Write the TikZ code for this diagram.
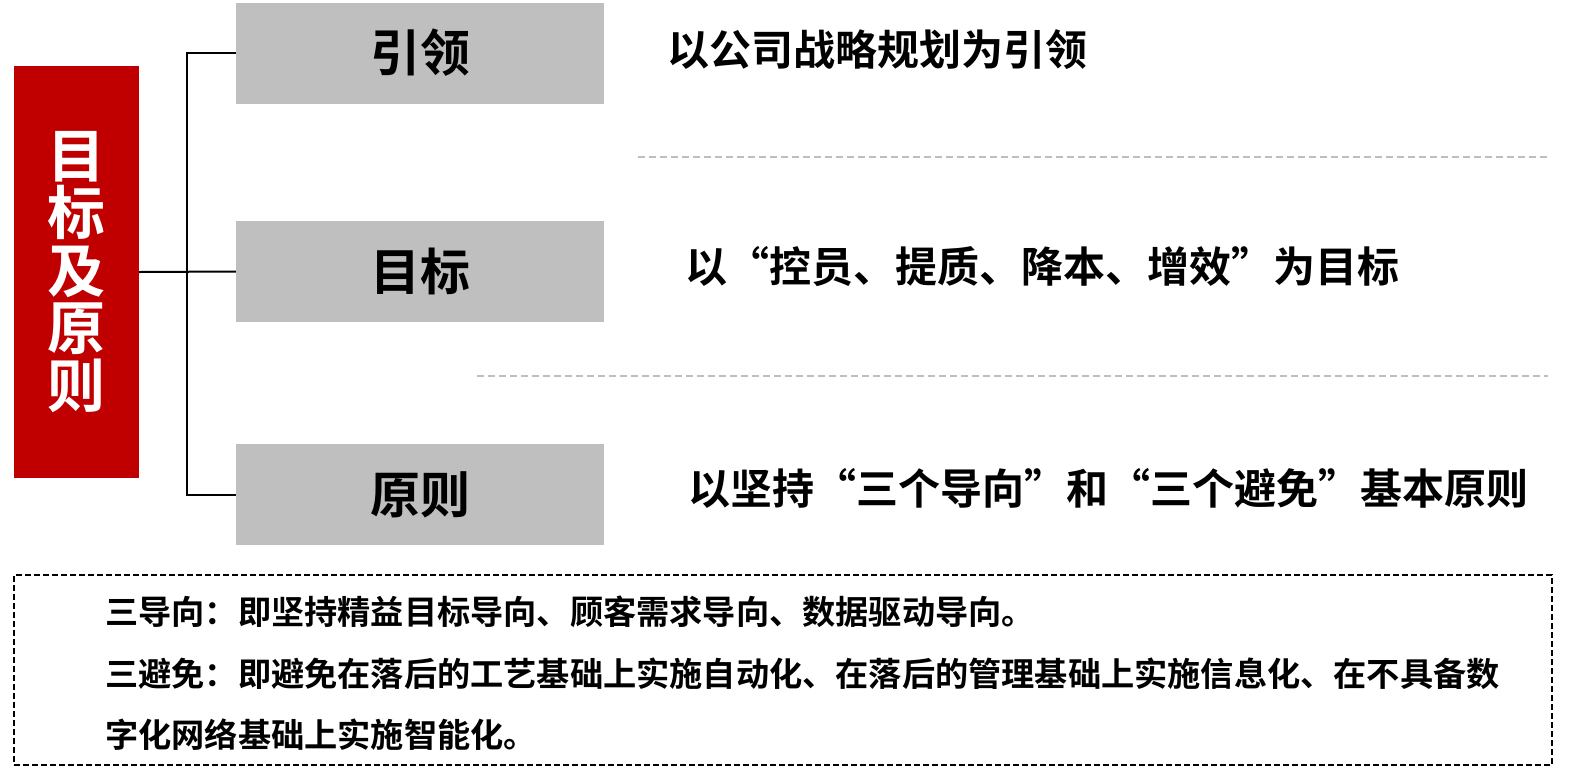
\documentclass[tikz,border=0pt]{standalone}
\usepackage{fontspec}
\newfontfamily\cjk{Noto Sans CJK SC}[BoldFont={Noto Sans CJK SC Bold}]
\definecolor{myred}{HTML}{C00000}
\definecolor{mygray}{HTML}{BFBFBF}
\definecolor{sepgray}{HTML}{BEBEBE}
\begin{document}
\begin{tikzpicture}[x=1pt,y=-1pt,
  graybox/.style={fill=mygray,draw=none,minimum width=368pt,minimum height=101pt,inner sep=0pt,
    font=\cjk\bfseries\fontsize{50}{54}\selectfont},
  righttext/.style={anchor=west,inner sep=0pt,font=\cjk\bfseries\fontsize{42}{46}\selectfont},
  notetext/.style={anchor=west,inner sep=0pt,font=\cjk\bfseries\fontsize{33.2}{38}\selectfont},
  conn/.style={line width=2pt,black},
  sep/.style={line width=1.5pt,sepgray,dash pattern=on 7pt off 4pt}]
\useasboundingbox (0,0) rectangle (1573,777);
\fill[white] (0,0) rectangle (1573,777);
\node[fill=myred,minimum width=125pt,minimum height=412pt,inner sep=0pt,text=white,align=center,
  font=\cjk\bfseries\fontsize{58}{57.5}\selectfont] (red) at (76.5,272) {目\\标\\及\\原\\则};
\node[graybox] (g1) at (420,53) {引领};
\node[graybox] (g2) at (420,271.5) {目标};
\node[graybox] (g3) at (420,494.5) {原则};
\coordinate (j) at (187,272);
\draw[conn] (red.east) -- (g2.west);
\draw[conn] (g1.west) -| (j) |- (g3.west);
\node[righttext] (t1) at (667,50) {以公司战略规划为引领};
\node[righttext] (t2) at (685,267) {以“控员、提质、降本、增效”为目标};
\node[righttext] (t3) at (688,488) {以坚持“三个导向”和“三个避免”基本原则};
\coordinate (s1a) at (638,157); \coordinate (s1b) at (1548,157);
\coordinate (s2a) at (477,376); \coordinate (s2b) at (1548,376);
\draw[sep] (s1a) -- (s1b);
\draw[sep] (s2a) -- (s2b);
\node[draw=black,line width=2.5pt,dash pattern=on 6pt off 3pt,minimum width=1538pt,minimum height=190pt,inner sep=0pt] (note) at (783,670) {};
\node[notetext] (n1) at (105,612) {三导向：即坚持精益目标导向、顾客需求导向、数据驱动导向。};
\node[notetext] (n2) at (105,674) {三避免：即避免在落后的工艺基础上实施自动化、在落后的管理基础上实施信息化、在不具备数};
\node[notetext] (n3) at (105,735) {字化网络基础上实施智能化。};
\end{tikzpicture}
\end{document}
